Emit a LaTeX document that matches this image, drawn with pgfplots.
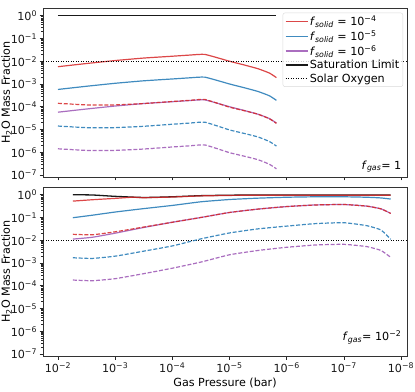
\documentclass[border=0pt]{standalone}
\usepackage{fontspec}
\setmainfont{DejaVu Sans}
\usepackage{pgfplots}
\pgfplotsset{compat=1.18}
\definecolor{cred}{RGB}{214,39,40}
\definecolor{cblue}{RGB}{31,119,180}
\definecolor{cpurp}{RGB}{155,85,180}
\definecolor{csat}{RGB}{25,25,25}
\tikzset{
  mln/.style={line width=1.2bp, opacity=0.85},
  mdsh/.style={line width=1.2bp, opacity=0.85, dash pattern=on 4bp off 1.8bp},
  mfn/.style={font=\fontsize{11.2}{12}\selectfont},
}
\begin{document}
\begin{tikzpicture}
\path[use as bounding box] (0bp,0bp) rectangle (415bp,392bp);
% ---------------- top panel ----------------
\begin{axis}[at={(43bp,215bp)}, anchor=south west,
    scale only axis, width=364bp, height=169bp,
    xmode=log, ymode=log,
    x dir=reverse,
    xmin=7.85e-9, xmax=1.828e-2, ymin=8.13e-8, ymax=2.19,
    xtick={1e-2,1e-3,1e-4,1e-5,1e-6,1e-7,1e-8},
    ytick={1e-7,1e-6,1e-5,1e-4,1e-3,1e-2,1e-1,1},
    yticklabels={10\textsuperscript{−7},10\textsuperscript{−6},10\textsuperscript{−5},10\textsuperscript{−4},10\textsuperscript{−3},10\textsuperscript{−2},10\textsuperscript{−1},10\textsuperscript{0}},
    xticklabels={},
    tick align=outside, xtick pos=bottom, ytick pos=left,
    major tick length=3.5bp, minor tick length=2bp,
    every tick/.style={black!85, line width=0.6bp},
    axis line style={black!80, line width=0.7bp},
    ticklabel style={font=\fontsize{11.2}{12}\selectfont, text=black!90},
    yticklabel style={xshift=1bp},
    ylabel style={font=\fontsize{11.2}{12}\selectfont, yshift=-8bp},
    ylabel={H\textsubscript{2}O Mass Fraction},
  legend style={at={(0.989,0.972)}, anchor=north east, draw=black!15, rounded corners=2bp,
    fill=white, fill opacity=0.8, text opacity=1, draw opacity=1, font=\fontsize{11.2}{12}\selectfont,
    inner xsep=2bp, inner ysep=1.5bp, row sep=0.3bp,
    nodes={inner sep=1.6bp}},
  legend cell align=left,
  legend image code/.code={\draw[#1, sharp corners] (0bp,0bp) -- (22bp,0bp);},
]
% solid (with legend)
\addplot[cred, mln, smooth, tension=0.25] coordinates {
(1e-2,5.75e-3) (3.162e-3,7.94e-3) (1e-3,1.072e-2) (3.162e-4,1.380e-2) (1e-4,1.660e-2)
(5.01e-5,1.862e-2) (2.69e-5,1.995e-2) (1e-5,1.0e-2) (5.62e-6,6.92e-3) (3.162e-6,4.68e-3)
(2.0e-6,3.02e-3) (1.51e-6,1.905e-3)};
\addlegendentry{\textit{f}\textsubscript{\textit{solid}} = 10\textsuperscript{−4}}
\addplot[cblue, mln, smooth, tension=0.25] coordinates {
(1e-2,5.75e-4) (3.162e-3,7.94e-4) (1e-3,1.072e-3) (3.162e-4,1.380e-3) (1e-4,1.660e-3)
(5.01e-5,1.862e-3) (2.69e-5,1.995e-3) (1e-5,1.0e-3) (5.62e-6,6.92e-4) (3.162e-6,4.68e-4)
(2.0e-6,3.02e-4) (1.51e-6,1.905e-4)};
\addlegendentry{\textit{f}\textsubscript{\textit{solid}} = 10\textsuperscript{−5}}
\addplot[cpurp, mln, smooth, tension=0.25] coordinates {
(1e-2,5.75e-5) (3.162e-3,7.94e-5) (1e-3,1.072e-4) (3.162e-4,1.380e-4) (1e-4,1.660e-4)
(5.01e-5,1.862e-4) (2.69e-5,1.995e-4) (1e-5,1.0e-4) (5.62e-6,6.92e-5) (3.162e-6,4.68e-5)
(2.0e-6,3.02e-5) (1.51e-6,1.905e-5)};
\addlegendentry{\textit{f}\textsubscript{\textit{solid}} = 10\textsuperscript{−6}}
% saturation
\addplot[csat, line width=1.3bp] coordinates {(1e-2,1) (1.51e-6,1)};
\addlegendentry{Saturation Limit}
% solar oxygen
\addplot[black, line width=0.9bp, dash pattern=on 1bp off 1.5bp] coordinates {(1e-1,1e-2) (1e-9,1e-2)};
\addlegendentry{Solar Oxygen}
% dashed
\addplot[forget plot, cred, mdsh, smooth, tension=0.25] coordinates {
(1e-2,1.413e-4) (3.162e-3,1.202e-4) (1e-3,1.202e-4) (3.162e-4,1.380e-4) (1e-4,1.698e-4)
(5.01e-5,1.905e-4) (2.69e-5,2.089e-4) (1e-5,9.55e-5) (5.62e-6,6.76e-5) (3.162e-6,4.68e-5)
(2.0e-6,2.95e-5) (1.51e-6,1.862e-5)};
\addplot[forget plot, cblue, mdsh, smooth, tension=0.25] coordinates {
(1e-2,1.413e-5) (3.162e-3,1.202e-5) (1e-3,1.202e-5) (3.162e-4,1.380e-5) (1e-4,1.698e-5)
(5.01e-5,1.905e-5) (2.69e-5,2.089e-5) (1e-5,9.55e-6) (5.62e-6,6.76e-6) (3.162e-6,4.68e-6)
(2.0e-6,2.95e-6) (1.51e-6,1.862e-6)};
\addplot[forget plot, cpurp, mdsh, smooth, tension=0.25] coordinates {
(1e-2,1.413e-6) (3.162e-3,1.202e-6) (1e-3,1.202e-6) (3.162e-4,1.380e-6) (1e-4,1.698e-6)
(5.01e-5,1.905e-6) (2.69e-5,2.089e-6) (1e-5,9.55e-7) (5.62e-6,6.76e-7) (3.162e-6,4.68e-7)
(2.0e-6,2.95e-7) (1.51e-6,1.862e-7)};
\node[mfn, anchor=south east, inner sep=0pt] at (rel axis cs:0.985,0.025) {\textit{f}\textsubscript{\textit{gas}}= 1};
\end{axis}
% ---------------- bottom panel ----------------
\begin{axis}[at={(43bp,36bp)}, anchor=south west,
    scale only axis, width=364bp, height=169bp,
    xmode=log, ymode=log,
    x dir=reverse,
    xmin=7.85e-9, xmax=1.828e-2, ymin=8.13e-8, ymax=2.19,
    xtick={1e-2,1e-3,1e-4,1e-5,1e-6,1e-7,1e-8},
    ytick={1e-7,1e-6,1e-5,1e-4,1e-3,1e-2,1e-1,1},
    yticklabels={10\textsuperscript{−7},10\textsuperscript{−6},10\textsuperscript{−5},10\textsuperscript{−4},10\textsuperscript{−3},10\textsuperscript{−2},10\textsuperscript{−1},10\textsuperscript{0}},
    xticklabels={10\textsuperscript{−2},10\textsuperscript{−3},10\textsuperscript{−4},10\textsuperscript{−5},10\textsuperscript{−6},10\textsuperscript{−7},10\textsuperscript{−8}},
    tick align=outside, xtick pos=bottom, ytick pos=left,
    major tick length=3.5bp, minor tick length=2bp,
    every tick/.style={black!85, line width=0.6bp},
    axis line style={black!80, line width=0.7bp},
    ticklabel style={font=\fontsize{11.2}{12}\selectfont, text=black!90},
    yticklabel style={xshift=1bp},
    ylabel style={font=\fontsize{11.2}{12}\selectfont, yshift=-8bp},
    xlabel style={font=\fontsize{11.2}{12}\selectfont, yshift=2bp},
    ylabel={H\textsubscript{2}O Mass Fraction},
    xlabel={Gas Pressure (bar)},
]
\addplot[forget plot, black, line width=0.9bp, dash pattern=on 1bp off 1.5bp] coordinates {(1e-1,1e-2) (1e-9,1e-2)};
\addplot[forget plot, csat, line width=1.3bp, smooth, tension=0.3] coordinates {
(5.5e-3,1.0) (2.512e-3,0.977) (1e-3,0.85) (3.162e-4,0.759) (1e-4,0.813) (3.162e-5,0.912)
(1e-5,0.955) (3.162e-6,0.977) (1e-6,0.977) (3.162e-7,0.977) (1e-7,0.977) (3.98e-8,0.977)
(2.24e-8,0.977) (1.514e-8,0.977)};
\addplot[forget plot, cred, mln, smooth, tension=0.3] coordinates {
(5.5e-3,0.525) (2.512e-3,0.603) (1e-3,0.692) (5.01e-4,0.776) (3.162e-4,0.741) (1e-4,0.794)
(3.162e-5,0.891) (1e-5,0.933) (3.162e-6,0.955) (1e-6,0.955) (3.162e-7,0.955) (1e-7,0.955)
(3.98e-8,0.955) (2.24e-8,0.955) (1.514e-8,0.955)};
\addplot[forget plot, cblue, mln, smooth, tension=0.3] coordinates {
(5.5e-3,0.0977) (2.512e-3,0.1259) (1e-3,0.1738) (3.162e-4,0.2455) (1e-4,0.339) (3.162e-5,0.490)
(1e-5,0.617) (3.162e-6,0.708) (1e-6,0.776) (3.162e-7,0.813) (1e-7,0.813) (3.98e-8,0.776)
(2.24e-8,0.724) (1.514e-8,0.646)};
\addplot[forget plot, cpurp, mln, smooth, tension=0.3] coordinates {
(5.5e-3,0.01122) (2.512e-3,0.01349) (1e-3,0.0204) (3.162e-4,0.0363) (1e-4,0.0617) (3.162e-5,0.1)
(1e-5,0.166) (3.162e-6,0.234) (1e-6,0.302) (3.162e-7,0.355) (1e-7,0.372) (3.98e-8,0.316)
(2.24e-8,0.240) (1.514e-8,0.151)};
\addplot[forget plot, cred, mdsh, smooth, tension=0.3] coordinates {
(5.5e-3,0.0182) (2.512e-3,0.01738) (1e-3,0.02344) (3.162e-4,0.0380) (1e-4,0.0617) (3.162e-5,0.1)
(1e-5,0.166) (3.162e-6,0.234) (1e-6,0.302) (3.162e-7,0.355) (1e-7,0.372) (3.98e-8,0.316)
(2.24e-8,0.240) (1.514e-8,0.151)};
\addplot[forget plot, cblue, mdsh, smooth, tension=0.3] coordinates {
(5.5e-3,1.698e-3) (2.512e-3,1.585e-3) (1e-3,1.995e-3) (3.162e-4,3.31e-3) (1e-4,5.62e-3) (3.162e-5,0.01148)
(1e-5,0.0209) (3.162e-6,0.0316) (1e-6,0.0417) (3.162e-7,0.0537) (1e-7,0.0589) (3.98e-8,0.0437)
(2.24e-8,0.0282) (1.514e-8,0.01096)};
\addplot[forget plot, cpurp, mdsh, smooth, tension=0.3] coordinates {
(5.5e-3,1.778e-4) (2.512e-3,1.660e-4) (1e-3,2.042e-4) (3.162e-4,3.39e-4) (1e-4,5.89e-4) (3.162e-5,1.096e-3)
(1e-5,2.29e-3) (3.162e-6,3.55e-3) (1e-6,4.90e-3) (3.162e-7,6.17e-3) (1e-7,6.61e-3) (3.98e-8,5.25e-3)
(2.24e-8,3.55e-3) (1.514e-8,1.778e-3)};
\node[mfn, anchor=south east, inner sep=0pt] at (rel axis cs:0.985,0.07) {\textit{f}\textsubscript{\textit{gas}}= 10\textsuperscript{−2}};
\end{axis}
\end{tikzpicture}
\end{document}
